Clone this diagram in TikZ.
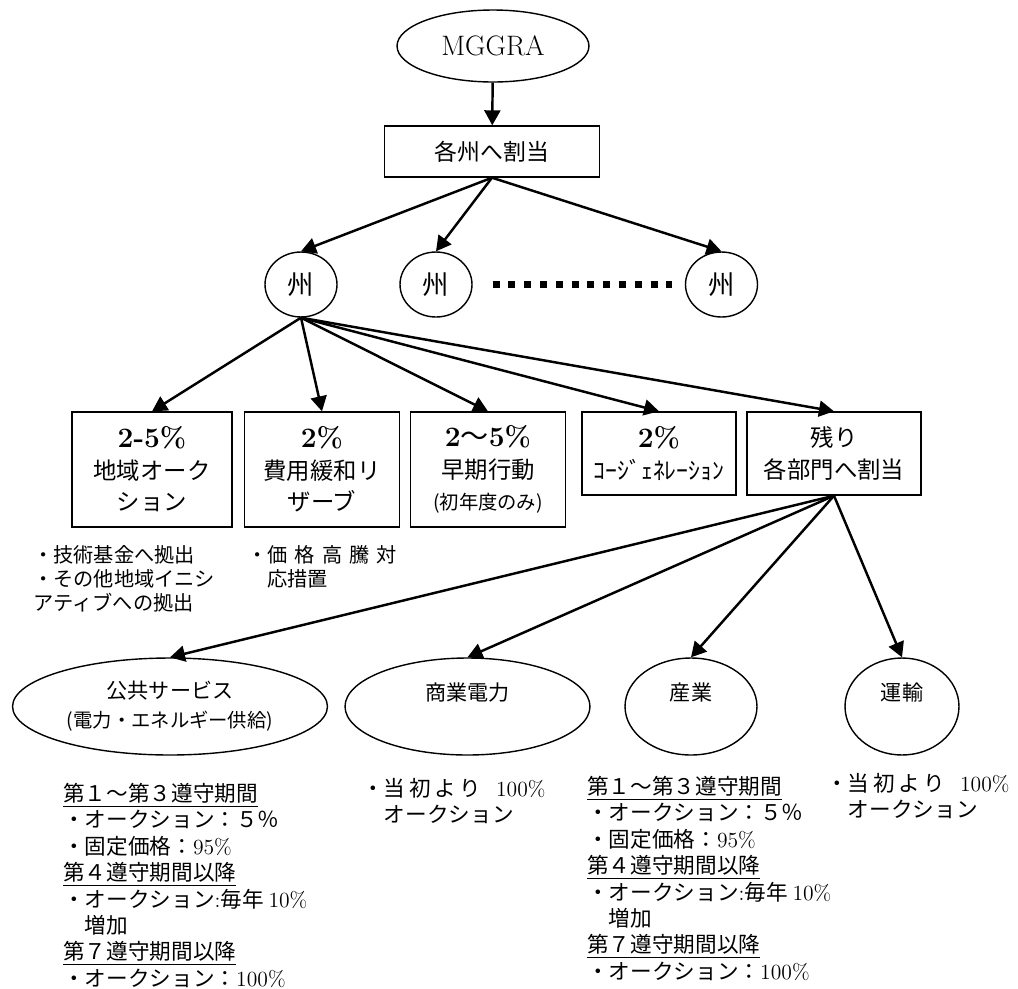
\documentclass[tikz,border=0pt]{standalone}
\usepackage{fontspec}
\newfontfamily\jp{Noto Sans CJK JP}
\usetikzlibrary{shapes}
\usetikzlibrary{arrows.meta}
\newcommand{\lat}[1]{{\rmfamily #1}}
\newcommand{\pct}[1]{{\rmfamily\bfseries\fontsize{16}{20}\selectfont #1}}
\tikzset{
    topnode/.style = {ellipse, thick, draw=black, minimum width=3.84cm, minimum height=1.44cm, font=\fontsize{16}{20}\selectfont},
    allocbox/.style = {rectangle, thick, draw=black, minimum width=4.3cm, minimum height=1.02cm, font=\jp\fontsize{13}{16}\selectfont},
    statenode/.style = {ellipse, thick, draw=black, minimum width=1.44cm, minimum height=1.3cm, inner sep=0pt, font=\jp\fontsize{15}{17}\selectfont},
    sharebox/.style = {rectangle, thick, draw=black, minimum height=2.3cm, align=center, inner sep=0pt, font=\jp\fontsize{13.3}{17.9}\selectfont},
    shortbox/.style = {sharebox, minimum height=1.66cm},
    sectornode/.style = {ellipse, thick, draw=black, minimum height=1.94cm, align=center, inner sep=0pt, font=\jp\fontsize{12}{16.4}\selectfont},
    uptext/.style = {text depth=0.6cm},
    note/.style = {anchor=north west, align=left, inner sep=0pt, font=\jp\fontsize{11.5}{13.6}\selectfont},
    longnote/.style = {note, font=\jp\fontsize{12.3}{15}\selectfont},
    edgen/.style = {-{Triangle[length=0.3cm,width=0.32cm]}, line width=1.4pt},
    dotline/.style = {line width=0.14cm, dash pattern=on 0.14cm off 0.176cm}
}
\newcommand{\fromstart}{・当\hspace{2pt}初\hspace{2pt}よ\hspace{2pt}り\hspace{0.7em}\lat{100\%}\\\phantom{・}オークション}

\begin{document}
\begin{tikzpicture}[x=0.02cm, y=-0.02cm]
\useasboundingbox (0,0) rectangle (1018,988);
%
\node[topnode] at (493, 46) (mg) {MGGRA};
\node[allocbox] at (492, 151.5) (alloc) {各州へ割当};
\node[statenode] at (301, 284.5) (st1) {州};
\node[statenode] at (436, 284.5) (st2) {州};
\node[statenode] at (721.5, 284.5) (st3) {州};
%
\node[sharebox, minimum width=3.2cm] at (152, 469.5) (b1) {\pct{2-5\%}\\地域オーク\\ション};
\node[sharebox, minimum width=3.1cm] at (322, 469.5) (b2) {\pct{2\%}\\費用緩和リ\\ザーブ};
\node[sharebox, minimum width=3.1cm] at (488, 469.5) (b3) {\pct{2{\jp\mdseries 〜}5\%}\\早期行動\\{\fontsize{11}{13}\selectfont (初年度のみ)}};
\node[shortbox, minimum width=3.08cm] at (659, 453.5) (b4) {\pct{2\%}\\{\fontsize{13.5}{17}\selectfont ｺｰｼﾞｪﾈﾚｰｼｮﾝ}};
\node[shortbox, minimum width=3.48cm] at (834, 453.5) (b5) {残り\\各部門へ割当};
%
\node[note] at (33, 545) (n1) {・技術基金へ拠出\\・その他地域イニシ\\アティブへの拠出};
\node[note] at (247, 545) (n2) {・価\hspace{4pt}格\hspace{4pt}高\hspace{4pt}騰\hspace{4pt}対\\\phantom{・}応措置};
%
\node[sectornode, minimum width=6.3cm] at (170, 706.5) (e1) {公共サービス\\{\fontsize{11}{13}\selectfont (電力・エネルギー供給)}};
\node[sectornode, uptext, minimum width=4.9cm] at (467.5, 706.5) (e2) {商業電力};
\node[sectornode, uptext, minimum width=2.64cm] at (691, 706.5) (e3) {産業};
\node[sectornode, uptext, minimum width=2.28cm] at (902, 706.5) (e4) {運輸};
%
\node[longnote] at (63, 783) (r1) {\underline{第１〜第３遵守期間}\\・オークション：５％\\・固定価格：\lat{95\%}\\\underline{第４遵守期間以降}\\・オークション\lat{:}毎年 \lat{10\%}\\\phantom{・}増加\\\underline{第７遵守期間以降}\\・オークション：\lat{100\%}};
\node[longnote] at (362, 778) (r2) {\fromstart};
\node[longnote] at (587, 776) (r3) {\underline{第１〜第３遵守期間}\\・オークション：５％\\・固定価格：\lat{95\%}\\\underline{第４遵守期間以降}\\・オークション\lat{:}毎年 \lat{10\%}\\\phantom{・}増加\\\underline{第７遵守期間以降}\\・オークション：\lat{100\%}};
\node[longnote] at (826, 773) (r4) {\fromstart};
%
\draw[edgen] (mg) -- (alloc);
\draw[edgen] (alloc.south) -- (st1.north);
\draw[edgen] (alloc.south) -- (st2.north);
\draw[edgen] (alloc.south) -- (st3.north);
\draw[dotline, shorten <=0.4cm, shorten >=0.26cm] (st2.east) -- (st3.west);
%
\draw[edgen] (st1.south) -- (b1.north);
\draw[edgen] (st1.south) -- (b2.north);
\draw[edgen] (st1.south) -- (b3.north);
\draw[edgen] (st1.south) -- (b4.north);
\draw[edgen] (st1.south) -- (b5.north);
%
\draw[edgen] (b5.south) -- (e1.north);
\draw[edgen] (b5.south) -- (e2.north);
\draw[edgen] (b5.south) -- (e3.north);
\draw[edgen] (b5.south) -- (e4.north);

\end{tikzpicture}
\end{document}
